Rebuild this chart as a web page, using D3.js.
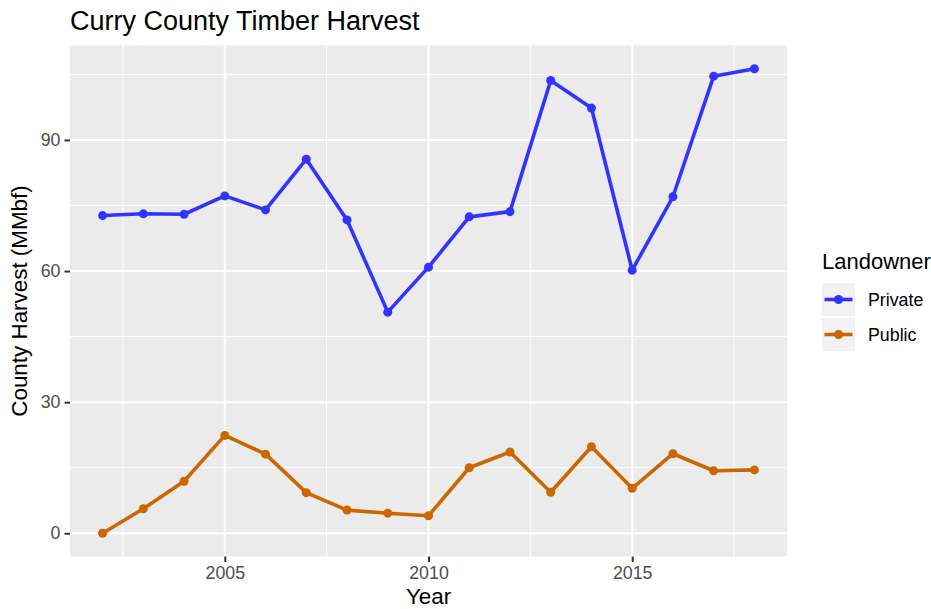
<!DOCTYPE html>
<html>
  <head>
    <title>Curry County Timber Harvest</title>
    <script src="https://d3js.org/d3.v7.js"></script>
    <style>
      body { margin: 0; background: #fff; }
      text { font-family: 'Liberation Sans', Arial, sans-serif; }
    </style>
  </head>
  <body>
    <svg width="931" height="609"></svg>

    <script>
      (function (d3) {
        'use strict';

        const titleText = 'Curry County Timber Harvest';
        const xAxisLabelText = 'Year';
        const yAxisLabelText = 'County Harvest (MMbf)';
        const legendTitle = 'Landowner';

        const years = [2002, 2003, 2004, 2005, 2006, 2007, 2008, 2009, 2010,
          2011, 2012, 2013, 2014, 2015, 2016, 2017, 2018];
        const privateHarvest = [72.7, 73.1, 73.0, 77.2, 74.0, 85.6, 71.7, 50.6, 60.9,
          72.4, 73.6, 103.6, 97.3, 60.2, 77.0, 104.6, 106.3];
        const publicHarvest = [0.0, 5.6, 11.9, 22.4, 18.1, 9.3, 5.3, 4.6, 4.0,
          15.0, 18.6, 9.4, 19.8, 10.3, 18.2, 14.3, 14.5];
        const seriesNames = ['Private', 'Public'];
        const seriesColors = ['#3333ff', '#cc6600'];
        const xTicks = [2005, 2010, 2015];
        const xMinorTicks = [2002.5, 2007.5, 2012.5, 2017.5];
        const yTicks = [0, 30, 60, 90];
        const yMinorTicks = [15, 45, 75, 105];

        const svg = d3.select('svg');

        const margin = { top: 45.5, right: 144, bottom: 52.5, left: 70 };
        const width = +svg.attr('width');
        const height = +svg.attr('height');
        const innerWidth = width - margin.left - margin.right;
        const innerHeight = height - margin.top - margin.bottom;

        const series = seriesNames.map((name, i) => ({
          name,
          color: seriesColors[i],
          values: years.map((y, j) => ({
            year: y,
            value: (i === 0 ? privateHarvest : publicHarvest)[j],
          })),
        }));

        // ggplot style 5% expansion
        const xExt = d3.extent(years);
        const xPad = (xExt[1] - xExt[0]) * 0.05;
        const allVals = privateHarvest.concat(publicHarvest);
        const yExt = d3.extent(allVals);
        const yPad = (yExt[1] - yExt[0]) * 0.05;

        const xScale = d3
          .scaleLinear()
          .domain([xExt[0] - xPad, xExt[1] + xPad])
          .range([0, innerWidth]);

        const yScale = d3
          .scaleLinear()
          .domain([yExt[0] - yPad, yExt[1] + yPad])
          .range([innerHeight, 0]);

        const g = svg
          .append('g')
          .attr('transform', `translate(${margin.left},${margin.top})`);

        g.append('rect')
          .attr('width', innerWidth)
          .attr('height', innerHeight)
          .attr('fill', '#ebebeb');

        // minor grid
        g.selectAll('.minor-x')
          .data(xMinorTicks)
          .enter()
          .append('line')
          .attr('x1', (d) => xScale(d))
          .attr('x2', (d) => xScale(d))
          .attr('y1', 0)
          .attr('y2', innerHeight)
          .attr('stroke', '#fff')
          .attr('stroke-width', 1);

        g.selectAll('.minor-y')
          .data(yMinorTicks)
          .enter()
          .append('line')
          .attr('y1', (d) => yScale(d))
          .attr('y2', (d) => yScale(d))
          .attr('x1', 0)
          .attr('x2', innerWidth)
          .attr('stroke', '#fff')
          .attr('stroke-width', 1);

        // major grid
        g.selectAll('.major-x')
          .data(xTicks)
          .enter()
          .append('line')
          .attr('x1', (d) => xScale(d))
          .attr('x2', (d) => xScale(d))
          .attr('y1', 0)
          .attr('y2', innerHeight)
          .attr('stroke', '#fff')
          .attr('stroke-width', 2);

        g.selectAll('.major-y')
          .data(yTicks)
          .enter()
          .append('line')
          .attr('y1', (d) => yScale(d))
          .attr('y2', (d) => yScale(d))
          .attr('x1', 0)
          .attr('x2', innerWidth)
          .attr('stroke', '#fff')
          .attr('stroke-width', 2);

        // axes
        const xAxisG = g
          .append('g')
          .attr('transform', `translate(0,${innerHeight})`)
          .call(
            d3.axisBottom(xScale)
              .tickValues(xTicks)
              .tickFormat(d3.format('d'))
              .tickSize(5.5)
              .tickPadding(4)
          );
        xAxisG.select('.domain').remove();
        xAxisG.selectAll('.tick line').attr('stroke', '#333').attr('stroke-width', 2);
        xAxisG.selectAll('.tick text')
          .attr('fill', '#4d4d4d')
          .style('font-size', '17.8px');

        const yAxisG = g
          .append('g')
          .call(
            d3.axisLeft(yScale)
              .tickValues(yTicks)
              .tickSize(5.5)
              .tickPadding(4)
          );
        yAxisG.select('.domain').remove();
        yAxisG.selectAll('.tick line').attr('stroke', '#333').attr('stroke-width', 2);
        yAxisG.selectAll('.tick text')
          .attr('fill', '#4d4d4d')
          .style('font-size', '17.8px');

        // lines and points
        const line = d3
          .line()
          .x((d) => xScale(d.year))
          .y((d) => yScale(d.value));

        const seriesG = g.selectAll('.series')
          .data(series)
          .enter()
          .append('g');

        seriesG.append('path')
          .attr('d', (d) => line(d.values))
          .attr('fill', 'none')
          .attr('stroke', (d) => d.color)
          .attr('stroke-width', 3.6)
          .attr('stroke-linejoin', 'round');

        seriesG.selectAll('circle')
          .data((d) => d.values.map((v) => ({ ...v, color: d.color })))
          .enter()
          .append('circle')
          .attr('cx', (d) => xScale(d.year))
          .attr('cy', (d) => yScale(d.value))
          .attr('r', 4.5)
          .attr('fill', (d) => d.color);

        // titles
        svg.append('text')
          .attr('x', margin.left)
          .attr('y', 30)
          .style('font-size', '27px')
          .attr('fill', '#000')
          .text(titleText);

        svg.append('text')
          .attr('x', margin.left + innerWidth / 2)
          .attr('y', 604)
          .attr('text-anchor', 'middle')
          .style('font-size', '22.4px')
          .attr('fill', '#000')
          .text(xAxisLabelText);

        svg.append('text')
          .attr('transform', `translate(27,${margin.top + innerHeight / 2}) rotate(-90)`)
          .attr('text-anchor', 'middle')
          .style('font-size', '22.4px')
          .attr('fill', '#000')
          .text(yAxisLabelText);

        // legend
        const legend = svg.append('g').attr('transform', 'translate(822,0)');

        legend.append('text')
          .attr('x', 0)
          .attr('y', 269)
          .style('font-size', '22px')
          .attr('fill', '#000')
          .text(legendTitle);

        const keys = legend.selectAll('.key')
          .data(series)
          .enter()
          .append('g')
          .attr('transform', (d, i) => `translate(0,${283 + i * 35})`);

        keys.append('rect')
          .attr('width', 33)
          .attr('height', 33)
          .attr('fill', '#f2f2f2');

        keys.append('line')
          .attr('x1', 2.5)
          .attr('x2', 30.5)
          .attr('y1', 16.5)
          .attr('y2', 16.5)
          .attr('stroke', (d) => d.color)
          .attr('stroke-width', 3.6);

        keys.append('circle')
          .attr('cx', 16.5)
          .attr('cy', 16.5)
          .attr('r', 4.5)
          .attr('fill', (d) => d.color);

        keys.append('text')
          .attr('x', 46)
          .attr('y', 23)
          .style('font-size', '17.8px')
          .attr('fill', '#000')
          .text((d) => d.name);
      })(d3);
    </script>
  </body>
</html>
